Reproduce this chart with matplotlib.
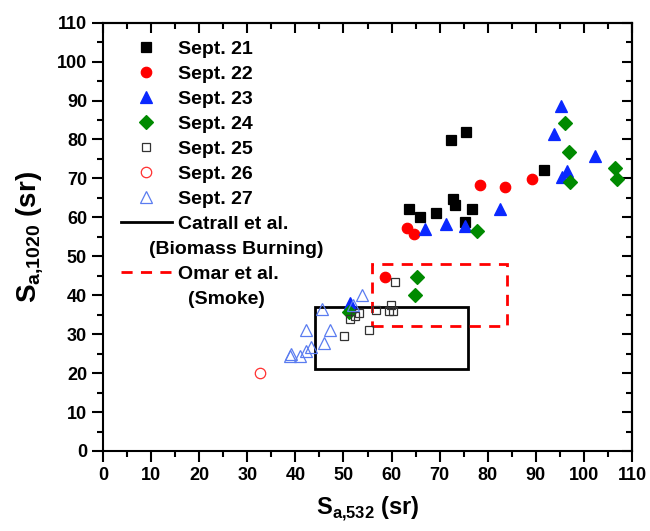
import matplotlib
matplotlib.use('Agg')
import matplotlib.pyplot as plt
from matplotlib.lines import Line2D
from matplotlib.patches import Rectangle
from matplotlib.ticker import MultipleLocator

plt.rcParams['font.family'] = ['Liberation Sans', 'DejaVu Sans']
plt.rcParams['font.weight'] = 'bold'
plt.rcParams['mathtext.fontset'] = 'custom'
plt.rcParams['mathtext.bf'] = 'Liberation Sans:bold'
plt.rcParams['mathtext.rm'] = 'Liberation Sans:bold'

# Lidar ratios per day (S_a,532 , S_a,1020)
sep21_x = [72.3, 75.4, 63.6, 66.0, 69.2, 72.7, 73.2, 76.8, 75.2, 91.6]
sep21_y = [79.8, 82.0, 62.1, 60.2, 61.2, 64.8, 63.2, 62.1, 58.7, 72.1]
sep22_x = [78.4, 83.6, 89.2, 63.3, 64.6, 58.6]
sep22_y = [68.4, 67.7, 69.9, 57.3, 55.6, 44.8]
sep23_x = [95.2, 93.8, 102.4, 96.4, 95.4, 82.5, 67.0, 71.4, 75.3, 51.3]
sep23_y = [88.5, 81.5, 75.7, 71.8, 70.4, 62.2, 57.0, 58.3, 57.9, 38.0]
sep24_x = [96.0, 96.8, 97.1, 106.4, 106.8, 77.7, 65.2, 64.9, 51.1]
sep24_y = [84.3, 76.9, 69.0, 72.7, 69.9, 56.6, 44.6, 40.1, 35.6]
sep25_x = [60.8, 56.7, 59.8, 59.5, 60.2, 55.4, 50.2, 51.4, 52.5, 53.2]
sep25_y = [43.5, 36.2, 37.5, 36.0, 36.0, 31.1, 29.5, 34.0, 34.7, 35.5]
sep26_x = [32.7]
sep26_y = [20.0]
sep27_x = [53.8, 45.6, 42.2, 47.3, 45.9, 43.3, 42.2, 41.0, 38.9, 39.0, 52.0]
sep27_y = [40.0, 36.4, 31.1, 31.0, 27.7, 26.7, 25.8, 24.4, 24.4, 24.9, 37.5]

# reference ranges (x0, x1, y0, y1)
catrall_box = [44, 76, 21, 37]
omar_box = [56, 84, 32, 48]

fig = plt.figure(figsize=(6.5, 5.31), dpi=100)
ax = fig.add_axes([0.1585, 0.1507, 0.8138, 0.8066])

for box, col, ls in [(catrall_box, 'black', '-'), (omar_box, 'red', (0, (4, 3)))]:
    ax.add_patch(Rectangle((box[0], box[2]), box[1] - box[0], box[3] - box[2],
                           fill=False, edgecolor=col, linestyle=ls, linewidth=2, zorder=1))

series = [
    (sep21_x, sep21_y, 's', 'black', 'black', 7, 'Sept. 21'),
    (sep22_x, sep22_y, 'o', 'red', 'red', 7.5, 'Sept. 22'),
    (sep23_x, sep23_y, '^', '#0a28ff', '#0a28ff', 8, 'Sept. 23'),
    (sep24_x, sep24_y, 'D', '#008a00', '#008a00', 7, 'Sept. 24'),
    (sep25_x, sep25_y, 's', 'none', '#333333', 6, 'Sept. 25'),
    (sep26_x, sep26_y, 'o', 'none', '#ff3030', 7.5, 'Sept. 26'),
    (sep27_x, sep27_y, '^', 'none', '#5a7cf0', 8.5, 'Sept. 27'),
]
handles = []
for xs, ys, m, fc, ec, ms, lab in series:
    ax.plot(xs, ys, linestyle='none', marker=m, markerfacecolor=fc,
            markeredgecolor=ec, markersize=ms, markeredgewidth=0.9, zorder=3)
    handles.append(Line2D([], [], linestyle='none', marker=m, markerfacecolor=fc,
                          markeredgecolor=ec, markersize=ms, markeredgewidth=0.9))

blank = Line2D([], [], linestyle='none')
handles += [Line2D([], [], color='black', linewidth=2), blank,
            Line2D([], [], color='red', linewidth=2, linestyle=(0, (4, 3))), blank]
labels = [s[-1] for s in series] + ['Catrall et al.', '(Biomass Burning)',
                                     'Omar et al.', '(Smoke)']

leg = ax.legend(handles, labels, loc='upper left', bbox_to_anchor=(0.034, 0.958),
                frameon=False, prop={'size': 14, 'weight': 'bold'},
                handlelength=2.6, handletextpad=0.35, labelspacing=0.38,
                borderpad=0, borderaxespad=0)
texts = leg.get_texts()
texts[8].set_x(-29)
texts[10].set_x(10)

ax.set_xlim(0, 110)
ax.set_ylim(0, 110)
ax.xaxis.set_major_locator(MultipleLocator(10))
ax.xaxis.set_minor_locator(MultipleLocator(5))
ax.yaxis.set_major_locator(MultipleLocator(10))
ax.yaxis.set_minor_locator(MultipleLocator(5))
ax.tick_params(which='both', direction='out', width=1.5, labelsize=13)
ax.tick_params(which='major', length=8)
ax.tick_params(which='minor', length=4)

sec_x = ax.secondary_xaxis('top')
sec_y = ax.secondary_yaxis('right')
for sec in (sec_x, sec_y):
    sec.tick_params(which='both', direction='in', width=1.5, labelsize=0)
    sec.tick_params(which='major', length=7)
    sec.tick_params(which='minor', length=4)
sec_x.xaxis.set_major_locator(MultipleLocator(10))
sec_x.xaxis.set_minor_locator(MultipleLocator(5))
sec_y.yaxis.set_major_locator(MultipleLocator(10))
sec_y.yaxis.set_minor_locator(MultipleLocator(5))
sec_x.set_xticklabels([])
sec_y.set_yticklabels([])
for sec in (sec_x, sec_y):
    for sp in sec.spines.values():
        sp.set_linewidth(1.5)

for sp in ax.spines.values():
    sp.set_linewidth(1.5)

ax.set_xlabel(r'$\mathbf{S}_{\mathbf{a{,}532}}$ (sr)', fontsize=17, fontweight='bold', labelpad=8)
ax.set_ylabel(r'$\mathbf{S}_{\mathbf{a{,}1020}}$ (sr)', fontsize=20, fontweight='bold', labelpad=8)

fig.savefig('out.png', dpi=100)
